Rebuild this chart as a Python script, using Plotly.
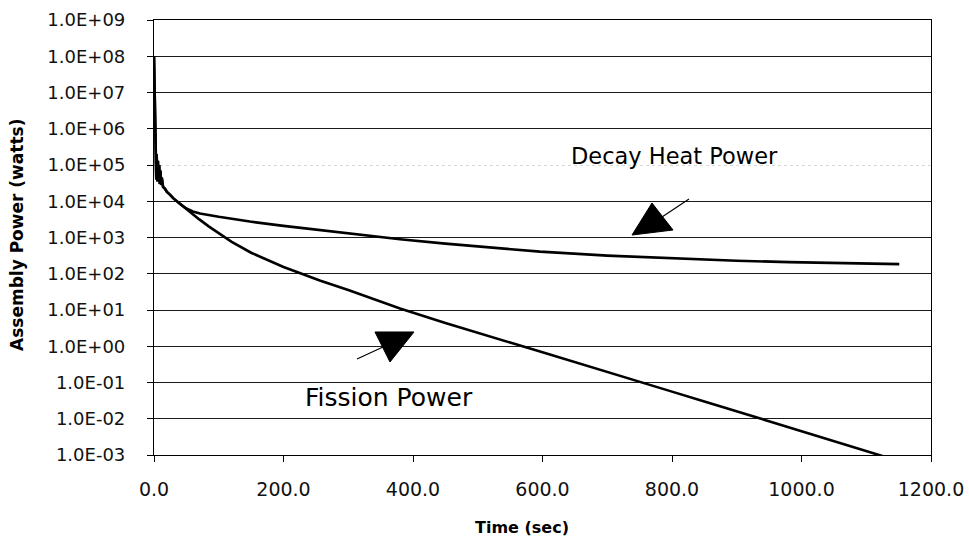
import plotly.graph_objects as go

# ---- data ----
time_fission = [0, 1, 1.5, 2, 2.5, 3, 3.5, 4, 4.5, 5, 5.5, 6, 7, 8, 9, 10, 11, 12, 14,
                17, 20, 25, 30, 40, 55, 70, 85, 100, 120, 150, 175, 200, 225, 256, 300,
                350, 380, 450, 500, 550, 600, 650, 700, 750, 800, 850, 900, 950, 1000,
                1050, 1100, 1154]
fission_power = [1.0e8, 1.0e7, 1.5e6, 2.5e5, 5.0e4, 2.2e5, 4.0e4, 2.0e5, 4.0e4, 1.6e5,
                 3.5e4, 1.3e5, 3.5e4, 1.0e5, 3.0e4, 7.0e4, 2.8e4, 4.5e4, 2.5e4,
                 2.2e4, 1.8e4, 1.5e4, 1.2e4, 8.5e3, 5.1e3, 3.16e3, 2.0e3, 1.29e3, 759,
                 380, 235, 153, 105, 65, 35.5, 17, 11, 4.4, 2.3, 1.26, 0.68, 0.36,
                 0.195, 0.105, 0.056, 0.030, 0.016, 0.0087, 0.0047, 0.00245, 0.00129,
                 0.00065]

time_decay = [0, 1, 1.5, 2, 2.5, 3, 3.5, 4, 4.5, 5, 5.5, 6, 7, 8, 9, 10, 11, 12, 14,
              17, 20, 25, 30, 40, 50, 60, 71, 100, 148, 200, 300, 380, 450, 500,
              596, 700, 800, 900, 981, 1050, 1151]
decay_power = [1.0e8, 1.0e7, 1.5e6, 2.5e5, 5.0e4, 2.2e5, 4.0e4, 2.0e5, 4.0e4, 1.6e5,
               3.5e4, 1.3e5, 3.5e4, 1.0e5, 3.0e4, 7.0e4, 2.8e4, 4.5e4, 2.5e4,
               2.2e4, 1.8e4, 1.5e4, 1.2e4, 8.5e3, 6.3e3, 5.2e3, 4.6e3, 3.72e3, 2.75e3,
               2.09e3, 1.29e3, 891, 676, 562, 407, 316, 263, 229, 209, 197, 184]

x_ticks = [0, 200, 400, 600, 800, 1000, 1200]
x_tick_labels = ["0.0", "200.0", "400.0", "600.0", "800.0", "1000.0", "1200.0"]
y_ticks = [1e-3, 1e-2, 1e-1, 1e0, 1e1, 1e2, 1e3, 1e4, 1e6, 1e7, 1e8, 1e9]
y_tick_labels = ["1.0E-03", "1.0E-02", "1.0E-01", "1.0E+00", "1.0E+01", "1.0E+02",
                 "1.0E+03", "1.0E+04", "1.0E+06", "1.0E+07", "1.0E+08", "1.0E+09"]
faint_ticks = [1e5]
faint_tick_labels = ["1.0E+05"]

FONT = "DejaVu Sans"
INK = "#000000"

fig = go.Figure()
fig.add_trace(go.Scatter(x=time_decay, y=decay_power, mode="lines",
                         line=dict(color=INK, width=2.6), showlegend=False,
                         name="Decay Heat Power"))
fig.add_trace(go.Scatter(x=time_fission, y=fission_power, mode="lines",
                         line=dict(color=INK, width=2.6), showlegend=False,
                         name="Fission Power"))
# invisible trace so that the overlay axis is rendered
fig.add_trace(go.Scatter(x=time_decay, y=decay_power, mode="lines", yaxis="y2",
                         line=dict(width=0), opacity=0, showlegend=False,
                         hoverinfo="skip"))

tickfont = dict(family=FONT, size=18, color="#111111")

fig.update_layout(
    width=969, height=538,
    margin=dict(l=154, r=38, t=20, b=83, autoexpand=False),
    paper_bgcolor="white", plot_bgcolor="white",
    xaxis=dict(range=[0, 1200], tickvals=x_ticks, ticktext=x_tick_labels,
               showgrid=False, zeroline=False, showline=True, linecolor=INK,
               linewidth=1.2, mirror=True, ticks="outside", ticklen=6,
               tickcolor=INK, tickfont=dict(family=FONT, size=19, color="#111111"),
               ticklabelstandoff=11, automargin=False),
    yaxis=dict(type="log", range=[-3, 9], tickvals=y_ticks, ticktext=y_tick_labels,
               showgrid=True, gridcolor="#1a1a1a", gridwidth=1, zeroline=False,
               showline=True, linecolor=INK, linewidth=1.2, mirror=True,
               ticks="outside", ticklen=6, tickcolor=INK, tickfont=tickfont,
               ticklabelstandoff=18, automargin=False),
    yaxis2=dict(type="log", range=[-3, 9], overlaying="y", side="left",
                tickvals=faint_ticks, ticktext=faint_tick_labels,
                showgrid=True, gridcolor="#d8d8d8", gridwidth=1, griddash="dot",
                zeroline=False, showline=False, ticks="outside", ticklen=6,
                tickcolor=INK, tickfont=tickfont, ticklabelstandoff=18,
                automargin=False),
)

def px_x(p):
    return (p - 154) / 777.0

def px_y(p):
    return (455 - p) / 435.0

annotations = [
    dict(text="<b>Time (sec)</b>", x=px_x(522), y=px_y(527), size=16),
    dict(text="<b>Assembly Power (watts)</b>", x=px_x(17), y=px_y(235),
         textangle=-90, size=17),
]
for a in annotations:
    size = a.pop("size")
    a.update(xref="paper", yref="paper", showarrow=False, xanchor="center",
             yanchor="middle", font=dict(family=FONT, size=size, color=INK))
    fig.add_annotation(**a)

fig.add_annotation(text="Decay Heat Power", x=px_x(674), y=px_y(156), xref="paper",
                   yref="paper", showarrow=False, xanchor="center", yanchor="middle",
                   font=dict(family=FONT, size=22.5, color=INK))
fig.add_annotation(text="Fission Power", x=px_x(389), y=px_y(397), xref="paper",
                   yref="paper", showarrow=False, xanchor="center", yanchor="middle",
                   font=dict(family=FONT, size=25, color=INK))

def tri_path(pts):
    s = "M {:.4f},{:.4f}".format(px_x(pts[0][0]), px_y(pts[0][1]))
    for p in pts[1:]:
        s += " L {:.4f},{:.4f}".format(px_x(p[0]), px_y(p[1]))
    return s + " Z"

# up-pointing arrow head (Decay Heat) and its leader line
fig.add_shape(type="path", xref="paper", yref="paper",
              path=tri_path([(652, 203), (632, 235), (673, 230)]),
              fillcolor=INK, line=dict(color=INK, width=1))
fig.add_shape(type="line", xref="paper", yref="paper",
              x0=px_x(662), y0=px_y(217), x1=px_x(689), y1=px_y(199),
              line=dict(color=INK, width=1.2))
# down-pointing arrow head (Fission) and its leader line
fig.add_shape(type="path", xref="paper", yref="paper",
              path=tri_path([(375, 332), (414, 332), (390, 362)]),
              fillcolor=INK, line=dict(color=INK, width=1))
fig.add_shape(type="line", xref="paper", yref="paper",
              x0=px_x(357), y0=px_y(359), x1=px_x(383), y1=px_y(347),
              line=dict(color=INK, width=1.2))

fig.write_html("out.html")
